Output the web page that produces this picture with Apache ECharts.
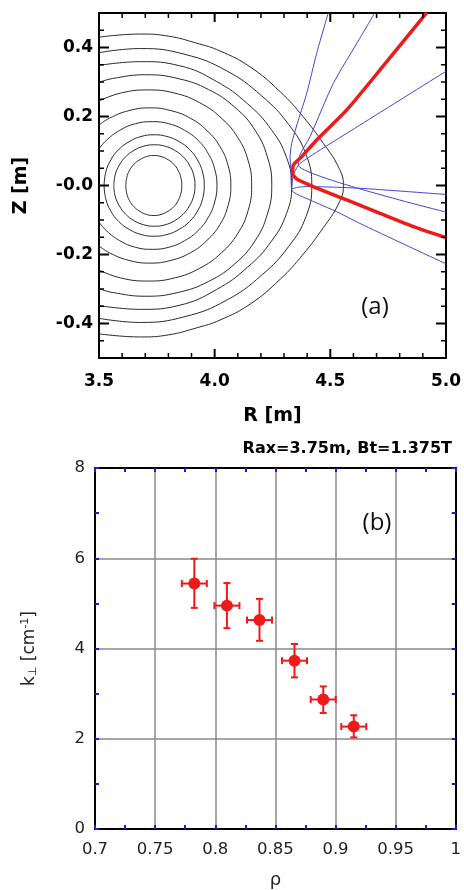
<!DOCTYPE html>
<html>
<head>
<meta charset="utf-8">
<script src="https://cdn.jsdelivr.net/npm/echarts@6/dist/echarts.min.js"></script>
<style>
html, body { margin: 0; padding: 0; background: #fff; }
#main { width: 464px; height: 890px; }
</style>
</head>
<body>
<div id="main"></div>
<script>
// ---- panel (a): flux surfaces (upper halves, R [m], Z [m]); lower half is the mirror image
const surfaceUpper = [
  [[3.616, 0], [3.620, 0.023], [3.632, 0.044], [3.652, 0.062], [3.677, 0.075], [3.706, 0.084], [3.737, 0.087], [3.768, 0.084], [3.798, 0.075], [3.823, 0.062], [3.842, 0.044], [3.854, 0.023], [3.858, 0]],
  [[3.564, 0], [3.570, 0.031], [3.588, 0.059], [3.615, 0.083], [3.652, 0.102], [3.694, 0.114], [3.740, 0.118], [3.785, 0.114], [3.827, 0.102], [3.864, 0.083], [3.891, 0.059], [3.909, 0.031], [3.915, 0]],
  [[3.522, 0], [3.529, 0.038], [3.551, 0.074], [3.585, 0.104], [3.630, 0.127], [3.682, 0.142], [3.738, 0.147], [3.794, 0.142], [3.847, 0.127], [3.892, 0.104], [3.926, 0.074], [3.948, 0.038], [3.955, 0]],
  [[3.500, 0.106], [3.532, 0.131], [3.590, 0.160], [3.657, 0.179], [3.730, 0.185], [3.802, 0.179], [3.870, 0.160], [3.928, 0.131], [3.972, 0.093], [4.000, 0.048], [4.010, 0]],
  [[3.500, 0.175], [3.545, 0.195], [3.629, 0.217], [3.720, 0.225], [3.811, 0.217], [3.895, 0.195], [3.967, 0.159], [4.023, 0.113], [4.058, 0.058], [4.070, 0]],
  [[3.500, 0.245], [3.594, 0.268], [3.710, 0.277], [3.826, 0.268], [3.935, 0.240], [4.028, 0.196], [4.100, 0.139], [4.145, 0.072], [4.160, 0]],
  [[3.500, 0.299], [3.558, 0.310], [3.700, 0.321], [3.842, 0.310], [3.974, 0.278], [4.087, 0.227], [4.174, 0.161], [4.228, 0.083], [4.247, 0]],
  [[3.500, 0.348], [3.680, 0.359], [3.849, 0.347], [4.007, 0.302], [4.142, 0.237], [4.245, 0.162], [4.311, 0.081], [4.333, 0]],
  [[3.500, 0.385], [3.680, 0.397], [3.872, 0.380], [4.050, 0.333], [4.203, 0.260], [4.321, 0.176], [4.395, 0.090], [4.420, 0]],
  [[3.500, 0.430], [3.680, 0.439], [3.800, 0.433], [3.920, 0.413], [4.023, 0.390], [4.153, 0.344], [4.283, 0.272], [4.383, 0.199], [4.470, 0.122], [4.535, 0.054], [4.557, 0]]
];

// central ray (red) and beam edge rays (blue)
const centralRay = [[4.917, 0.501], [4.744, 0.359], [4.571, 0.219], [4.441, 0.132], [4.376, 0.083], [4.340, 0.059], [4.337, 0.035], [4.355, 0.019], [4.426, -0.003], [4.571, -0.042], [4.715, -0.081], [4.859, -0.119], [5.0, -0.151]];
const rayA = [[4.491, 0.50], [4.441, 0.383], [4.398, 0.267], [4.362, 0.190], [4.333, 0.122], [4.326, 0.083], [4.330, 0.040], [4.333, -0.010], [4.360, -0.005], [4.400, -0.003], [4.628, -0.008], [5.0, -0.026]];
const rayB = [[4.692, 0.50], [4.628, 0.427], [4.513, 0.296], [4.412, 0.141], [4.362, 0.074], [4.362, 0.059], [5.0, -0.077]];
const rayC = [[5.0, 0.331], [4.628, 0.175], [4.369, 0.064], [4.340, 0.030], [4.333, -0.013], [4.412, -0.042], [4.528, -0.076], [4.628, -0.110], [5.0, -0.227]];

const rRange = [3.5, 5.0];
const zRange = [-0.5, 0.5];
const rTicks = [3.5, 4.0, 4.5, 5.0];
const rTickLabels = ['3.5', '4.0', '4.5', '5.0'];
const rMinorTicks = [3.6, 3.7, 3.8, 3.9, 4.1, 4.2, 4.3, 4.4, 4.6, 4.7, 4.8, 4.9];
const zTicks = [-0.4, -0.2, 0, 0.2, 0.4];
const zTickLabels = ['-0.4', '-0.2', '-0.0', '0.2', '0.4'];
const zMinorTicks = [-0.45, -0.35, -0.3, -0.25, -0.15, -0.1, -0.05, 0.05, 0.1, 0.15, 0.25, 0.3, 0.35, 0.45];

// ---- panel (b): k_perp vs rho
const rho = [0.7826, 0.8097, 0.8368, 0.8659, 0.8898, 0.9152];
const rhoErr = [0.0104, 0.0104, 0.0104, 0.0104, 0.0104, 0.0104];
const kPerp = [5.44, 4.95, 4.63, 3.73, 2.87, 2.27];
const kLow = [4.90, 4.45, 4.17, 3.36, 2.57, 2.03];
const kHigh = [5.99, 5.45, 5.10, 4.10, 3.16, 2.52];
const rhoTicks = [0.7, 0.75, 0.8, 0.85, 0.9, 0.95, 1.0];
const rhoTickLabels = ['0.7', '0.75', '0.8', '0.85', '0.9', '0.95', '1'];

const RED = '#ee1a1a';
const BLUE = '#4444d4';
const TICKBLUE = '#1c1cd0';
const boldFont = { fontFamily: 'DejaVu Sans', fontWeight: 'bold', color: '#000' };

function closeSurface(up) {
  const low = up.slice(0, -1).reverse().map(p => [p[0], -p[1]]);
  return up.concat(low);
}
function lookup(vals, labels) {
  return v => {
    for (let i = 0; i < vals.length; i++) if (Math.abs(vals[i] - v) < 1e-6) return labels[i];
    return '';
  };
}

const chart = echarts.init(document.getElementById('main'));

function frameLine() {
  return { show: true, onZero: false, lineStyle: { color: '#000', width: 2 } };
}
function topX(pos, labels) {
  return {
    gridIndex: 0, type: 'value', position: pos, min: rRange[0], max: rRange[1], interval: 0.5,
    axisLine: frameLine(),
    axisTick: { show: false },
    axisLabel: { show: labels, margin: 15, fontSize: 17, ...boldFont, formatter: lookup(rTicks, rTickLabels) },
    splitLine: { show: false }
  };
}
function topY(pos, labels) {
  return {
    gridIndex: 0, type: 'value', position: pos, min: zRange[0], max: zRange[1], interval: 0.05,
    axisLine: frameLine(),
    axisTick: { show: false },
    axisLabel: labels
      ? { show: true, margin: 6, fontSize: 17, ...boldFont, customValues: zTicks, formatter: lookup(zTicks, zTickLabels) }
      : { show: false },
    splitLine: { show: false }
  };
}
function botX(pos, labels) {
  return {
    gridIndex: 1, type: 'value', position: pos, min: 0.7, max: 1.0, interval: 0.05,
    axisLine: frameLine(),
    axisTick: { show: true, inside: true, length: 4, lineStyle: { color: TICKBLUE, width: 2 } },
    minorTick: { show: true, splitNumber: 2, length: 4, lineStyle: { color: TICKBLUE, width: 2 } },
    axisLabel: { show: labels, margin: 12, fontSize: 16.5, fontFamily: 'DejaVu Sans', color: '#222',
      showMinLabel: true, showMaxLabel: true, formatter: lookup(rhoTicks, rhoTickLabels) },
    splitLine: { show: labels, lineStyle: { color: '#8a8a8a', width: 1.5 } }
  };
}
function botY(pos, labels) {
  return {
    gridIndex: 1, type: 'value', position: pos, min: 0, max: 8, interval: 2,
    axisLine: frameLine(),
    axisTick: { show: true, inside: true, length: 4, lineStyle: { color: TICKBLUE, width: 2 } },
    minorTick: { show: true, splitNumber: 2, length: 4, lineStyle: { color: TICKBLUE, width: 2 } },
    axisLabel: { show: labels, margin: 10, fontSize: 16.5, fontFamily: 'DejaVu Sans', color: '#222' },
    splitLine: { show: labels, lineStyle: { color: '#8a8a8a', width: 1.5 } }
  };
}

const xAxes = [topX('bottom', true), topX('top', false), botX('bottom', true), botX('top', false)];
xAxes[0].name = 'R [m]';
xAxes[0].nameLocation = 'middle';
xAxes[0].nameGap = 49;
xAxes[0].nameTextStyle = { fontSize: 19, ...boldFont };
xAxes[2].name = 'ρ';
xAxes[2].nameLocation = 'middle';
xAxes[2].nameGap = 42;
xAxes[2].nameTextStyle = { fontSize: 18, fontFamily: 'DejaVu Sans', color: '#222' };

const yAxes = [topY('left', true), topY('right', false), botY('left', true), botY('right', false)];
yAxes[0].name = 'Z [m]';
yAxes[0].nameLocation = 'middle';
yAxes[0].nameGap = 68;
yAxes[0].nameTextStyle = { fontSize: 19, ...boldFont };
yAxes[2].name = '{t|k}{sub|⊥}{t| [cm}{sup|-1}{t|]}';
yAxes[2].nameLocation = 'middle';
yAxes[2].nameGap = 56;
yAxes[2].nameTextStyle = {
  rich: {
    t: { fontSize: 17, fontFamily: 'DejaVu Sans', color: '#222' },
    sub: { fontSize: 11, fontFamily: 'DejaVu Sans', color: '#222', padding: [8, 0, 0, 0] },
    sup: { fontSize: 11, fontFamily: 'DejaVu Sans', color: '#222', padding: [0, 0, 8, 0] }
  }
};

const series = [];
surfaceUpper.forEach((up, i) => {
  series.push({
    name: 'surface' + (i + 1), type: 'line', xAxisIndex: 0, yAxisIndex: 0,
    data: closeSurface(up), showSymbol: false, smooth: 0.45, silent: true,
    lineStyle: { color: '#2a2a2a', width: 1 }, z: 2
  });
});
[rayA, rayB, rayC].forEach((ray, i) => {
  series.push({
    name: 'ray' + i, type: 'line', xAxisIndex: 0, yAxisIndex: 0,
    data: ray, showSymbol: false, smooth: 0.2, silent: true,
    lineStyle: { color: BLUE, width: 1 }, z: 3
  });
});
series.push({
  name: 'central ray', type: 'line', xAxisIndex: 0, yAxisIndex: 0,
  data: centralRay, showSymbol: false, smooth: 0.25, silent: true,
  lineStyle: { color: RED, width: 3.5 }, z: 4
});

// frame ticks of panel (a), inward on all four sides: [value, 0 = R / 1 = Z, length]
const frameTicks = []
  .concat(rTicks.map(v => [v, 0, 9]), rMinorTicks.map(v => [v, 0, 5]))
  .concat(zTicks.map(v => [v, 1, 10]), zMinorTicks.map(v => [v, 1, 5]));
series.push({
  name: 'frame ticks', type: 'custom', xAxisIndex: 0, yAxisIndex: 0, silent: true, clip: false,
  data: frameTicks,
  renderItem: function (params, api) {
    const v = api.value(0), kind = api.value(1), len = api.value(2);
    const w = len > 6 ? 2 : 1.5;
    const st = { stroke: '#000', lineWidth: w };
    let a, b;
    if (kind === 0) {
      a = api.coord([v, zRange[0]]);
      b = api.coord([v, zRange[1]]);
      return { type: 'group', children: [
        { type: 'line', shape: { x1: a[0], y1: a[1], x2: a[0], y2: a[1] - len }, style: st },
        { type: 'line', shape: { x1: b[0], y1: b[1], x2: b[0], y2: b[1] + len }, style: st }
      ] };
    }
    a = api.coord([rRange[0], v]);
    b = api.coord([rRange[1], v]);
    return { type: 'group', children: [
      { type: 'line', shape: { x1: a[0], y1: a[1], x2: a[0] + len, y2: a[1] }, style: st },
      { type: 'line', shape: { x1: b[0], y1: b[1], x2: b[0] - len, y2: b[1] }, style: st }
    ] };
  },
  z: 5
});

series.push({
  name: 'error bars', type: 'custom', xAxisIndex: 2, yAxisIndex: 2,
  data: rho.map((r, i) => [r, kPerp[i], rhoErr[i], kLow[i], kHigh[i]]),
  encode: { x: 0, y: 1 },
  renderItem: function (params, api) {
    const x = api.value(0), y = api.value(1), dx = api.value(2);
    const c = api.coord([x, y]);
    const l = api.coord([x - dx, y]);
    const r = api.coord([x + dx, y]);
    const t = api.coord([x, api.value(4)]);
    const b = api.coord([x, api.value(3)]);
    const cap = 3.5;
    const st = { stroke: RED, lineWidth: 2 };
    return {
      type: 'group',
      children: [
        { type: 'line', shape: { x1: l[0], y1: c[1], x2: r[0], y2: c[1] }, style: st },
        { type: 'line', shape: { x1: l[0], y1: c[1] - cap, x2: l[0], y2: c[1] + cap }, style: st },
        { type: 'line', shape: { x1: r[0], y1: c[1] - cap, x2: r[0], y2: c[1] + cap }, style: st },
        { type: 'line', shape: { x1: c[0], y1: t[1], x2: c[0], y2: b[1] }, style: st },
        { type: 'line', shape: { x1: c[0] - cap, y1: t[1], x2: c[0] + cap, y2: t[1] }, style: st },
        { type: 'line', shape: { x1: c[0] - cap, y1: b[1], x2: c[0] + cap, y2: b[1] }, style: st }
      ]
    };
  },
  z: 3
});
series.push({
  name: 'k_perp', type: 'scatter', xAxisIndex: 2, yAxisIndex: 2,
  data: rho.map((r, i) => [r, kPerp[i]]),
  symbol: 'circle', symbolSize: 12,
  itemStyle: { color: RED, opacity: 1 }, z: 4
});

chart.setOption({
  animation: false,
  backgroundColor: '#fff',
  grid: [
    { left: 99, top: 13, width: 347, height: 345 },
    { left: 95, top: 468, width: 361, height: 361 }
  ],
  xAxis: xAxes,
  yAxis: yAxes,
  series: series,
  graphic: [
    { type: 'text', x: 375, y: 307, style: { text: '(a)', fontFamily: 'Open Sans', fontSize: 24, fill: '#111', align: 'center', verticalAlign: 'middle' } },
    { type: 'text', x: 377, y: 523, style: { text: '(b)', fontFamily: 'Open Sans', fontSize: 24, fill: '#111', align: 'center', verticalAlign: 'middle' } },
    { type: 'text', x: 452, y: 449, style: { text: 'Rax=3.75m, Bt=1.375T', fontFamily: 'DejaVu Sans', fontWeight: 'bold', fontSize: 16, fill: '#000', align: 'right', verticalAlign: 'middle' } }
  ]
});
</script>
</body>
</html>
